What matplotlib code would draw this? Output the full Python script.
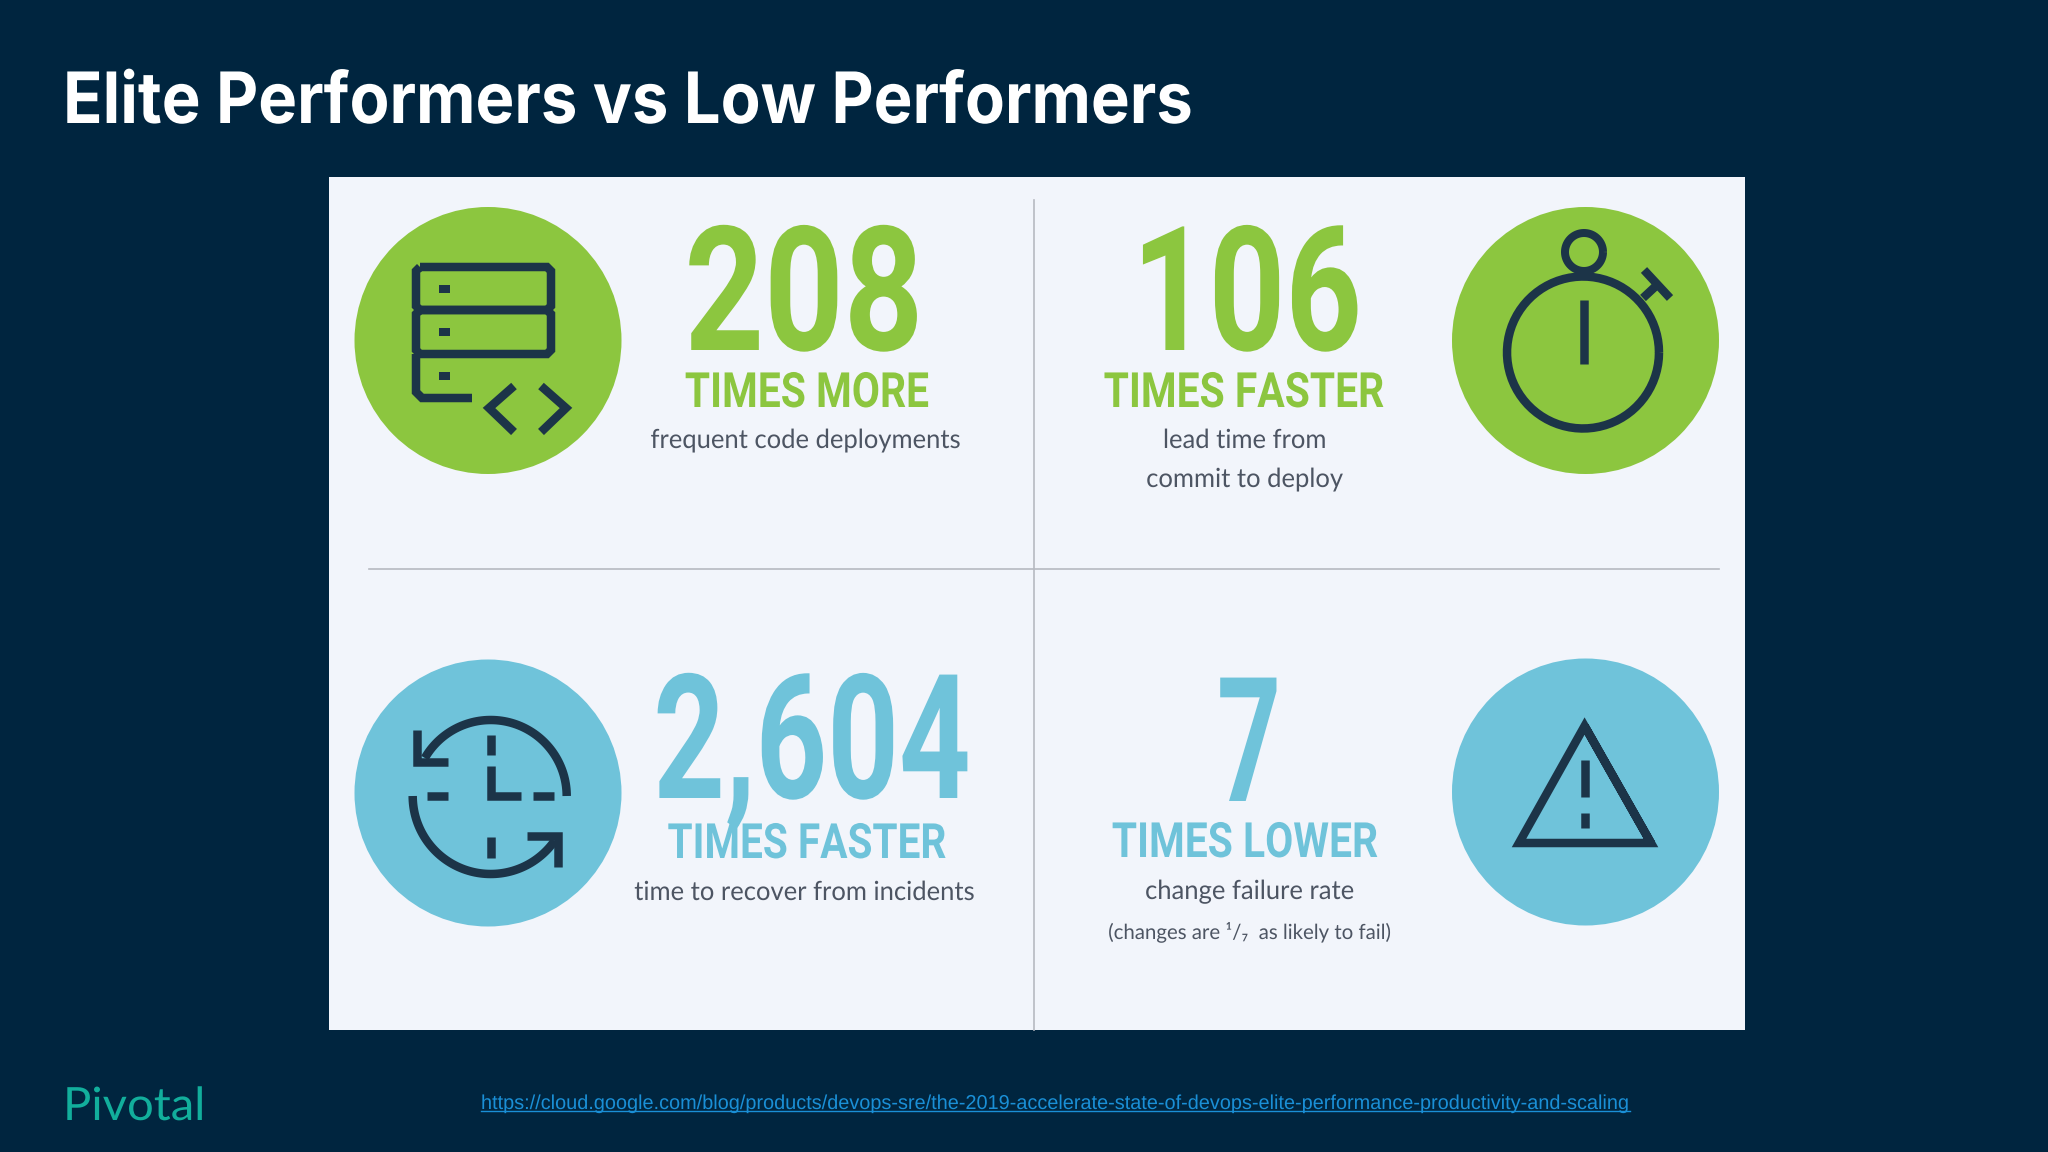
import numpy as np
import matplotlib
matplotlib.use('Agg')
import matplotlib.pyplot as plt
from matplotlib.patches import Circle, Rectangle
from matplotlib.patheffects import AbstractPathEffect
from matplotlib.transforms import Affine2D

# ----- texts -----
title = 'Elite Performers vs Low Performers'
numbers = ['208', '106', '2,604', '7']
headings = ['TIMES MORE', 'TIMES FASTER', 'TIMES FASTER', 'TIMES LOWER']
captions = ['frequent code deployments', 'lead time from', 'commit to deploy',
            'time to recover from incidents', 'change failure rate']
note = '(changes are ¹/₇  as likely to fail)'
logo = 'Pivotal'
url = 'https://cloud.google.com/blog/products/devops-sre/the-2019-accelerate-state-of-devops-elite-performance-productivity-and-scaling'

# ----- colours -----
bg = '#00253f'
panel = '#f2f5fb'
green = '#8cc63f'
blue = '#6fc3da'
dark = '#1c3448'
grey = '#4d5563'
rule = '#b6b9c1'

narrow = ['Roboto', 'DejaVu Sans']
body = ['Lato', 'DejaVu Sans']

fig = plt.figure(figsize=(20.48, 11.52), dpi=100, facecolor=bg)
ax = fig.add_axes([0, 0, 1, 1])
ax.set_xlim(0, 2048)
ax.set_ylim(1152, 0)
ax.axis('off')


class Squeeze(AbstractPathEffect):
    # no condensed font here, so squeeze the glyphs sideways around x0
    def __init__(self, x0, k):
        super().__init__()
        self.x0 = x0
        self.k = k

    def draw_path(self, renderer, gc, tpath, affine, rgbFace=None):
        squeeze = Affine2D().translate(-self.x0, 0).scale(self.k, 1).translate(self.x0, 0)
        renderer.draw_path(gc, tpath, affine + squeeze, rgbFace)


def label(x, y, s, k=1, ha='center', **kw):
    t = ax.text(x, y, s, ha=ha, va='baseline', zorder=5, **kw)
    t.set_path_effects([Squeeze(x, k)])


def stroke(xs, ys, lw=8.5, col=dark):
    # lw in pixels
    ax.plot(xs, ys, color=col, lw=lw*0.72, solid_capstyle='butt', solid_joinstyle='miter', zorder=4)


def arc(cx, cy, r, a0, a1, lw=8.5):
    t = np.radians(np.linspace(a0, a1, 80))
    stroke(cx + r*np.cos(t), cy - r*np.sin(t), lw)


ax.add_patch(Rectangle((329, 176.5), 1416, 853.5, fc=panel, ec='none', zorder=1))
ax.plot([1033.5, 1033.5], [200, 1030], color=rule, lw=1.2, zorder=2)
ax.plot([369, 1719], [569, 569], color=rule, lw=1.2, zorder=2)

for cx, cy, col in [(488, 340.5, green), (1585.5, 340.5, green), (488, 793, blue), (1585.5, 792, blue)]:
    ax.add_patch(Circle((cx, cy), 133.5, fc=col, ec='none', zorder=3))

# servers
stroke([420, 547, 551, 551, 547, 420, 416, 416, 420], [267, 267, 271, 306, 310, 310, 306, 271, 267])
stroke([420, 547, 551, 551, 547, 420, 416, 416, 420], [310, 310, 314, 350, 354, 354, 350, 314, 310])
stroke([416, 416, 422, 472], [354, 392, 398, 398])
for y in (289, 332, 376):
    ax.add_patch(Rectangle((439, y-4), 11, 8, fc=dark, ec='none', zorder=4))
stroke([514, 489, 514], [386, 408, 432])
stroke([541, 566, 541], [386, 408, 432])

# stopwatch
arc(1583, 352.5, 76, 0, 360)
arc(1584, 252, 19, 0, 360, 8)
stroke([1584, 1584], [300, 364])
stroke([1643, 1657], [298, 285])
stroke([1644, 1670], [270, 298])

# clock
arc(490.7, 796, 76, 0, 150)
arc(490.7, 796, 78, 180, 325)
stroke([417, 417, 448], [730, 762, 762])
stroke([527, 558, 558], [836, 836, 867])
stroke([490.7, 490.7], [735, 755])
stroke([490.7, 490.7], [837, 858])
stroke([427, 448], [796, 796])
stroke([533, 554], [796, 796])
stroke([490.7, 490.7, 520.5], [766, 796, 796])

# warning triangle
stroke([1584.6, 1651, 1519, 1584.6, 1651], [726, 843, 843, 726, 843])
stroke([1584.6, 1584.6], [760, 797])
stroke([1584.6, 1584.6], [813, 828])

# texts
label(63, 123, title, k=0.92, ha='left', color='white', fontsize=51, fontweight='bold', family=['Inter', 'DejaVu Sans'])

num_k = [0.80, 0.77, 0.72, 0.645]
for s, x, y, col, k in zip(numbers, [804, 1247, 812, 1249], [350, 350, 798, 801], [green, green, blue, blue], num_k):
    label(x, y, s, k=k, color=col, fontsize=125, fontweight='bold', family=narrow)
head_k = [0.84, 0.84, 0.835, 0.84]
for s, x, y, col, k in zip(headings, [807, 1244, 807, 1245], [407, 407, 858, 857], [green, green, blue, blue], head_k):
    label(x, y, s, k=k, color=col, fontsize=35, fontweight='bold', family=narrow)
for s, x, y in zip(captions, [806, 1245, 1245, 805, 1250], [448, 448, 487, 900, 899]):
    label(x, y, s, k=0.97, color=grey, fontsize=19, family=body)
label(1250, 939, note, k=0.98, color=grey, fontsize=15, family=body)

label(63, 1120, logo, k=1.03, ha='left', color='#12ae9c', fontsize=33, family=body)
label(481, 1109, url, k=0.988, ha='left', color='#1a8fd6', fontsize=14.5, family=['Liberation Sans', 'DejaVu Sans'])
ax.plot([481, 1630], [1111, 1111], color='#1a8fd6', lw=1, zorder=5)

fig.savefig('out.png', dpi=100, facecolor=bg)
